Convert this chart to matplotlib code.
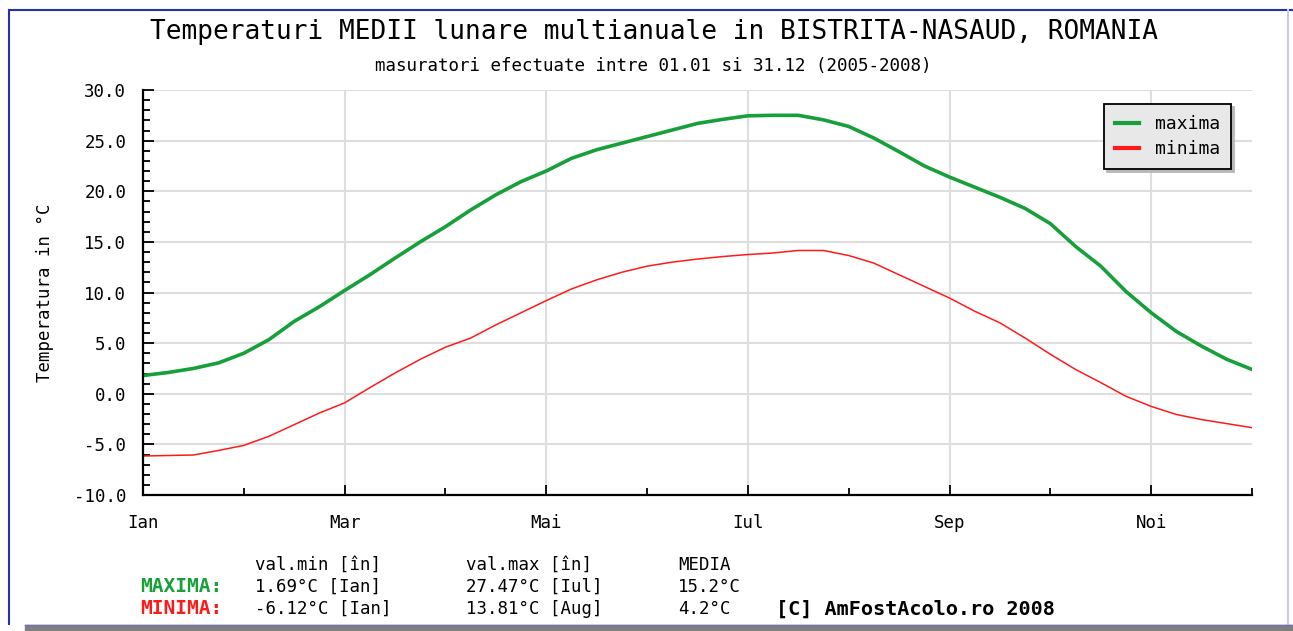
import matplotlib
matplotlib.use("Agg")
import matplotlib.pyplot as plt
from matplotlib.lines import Line2D

# luna (0 = Ian ... 11 = Dec), citite din grafic la fiecare sfert de luna
luni = [i / 4 for i in range(45)]
maxima = [1.8, 2.1, 2.5, 3.05, 4.0, 5.35, 7.15, 8.6, 10.2, 11.75, 13.4, 15.0,
          16.5, 18.15, 19.65, 20.95, 22.0, 23.25, 24.1, 24.75, 25.4, 26.05, 26.7, 27.1,
          27.45, 27.5, 27.5, 27.05, 26.4, 25.25, 23.9, 22.5, 21.4, 20.4, 19.4, 18.3,
          16.8, 14.55, 12.6, 10.1, 8.0, 6.15, 4.7, 3.4, 2.4]
minima = [-6.15, -6.1, -6.05, -5.6, -5.1, -4.2, -3.05, -1.9, -0.9, 0.6, 2.05, 3.4,
          4.6, 5.5, 6.8, 8.0, 9.2, 10.35, 11.25, 12.0, 12.6, 13.0, 13.3, 13.55,
          13.75, 13.9, 14.15, 14.15, 13.65, 12.9, 11.75, 10.6, 9.45, 8.15, 7.0, 5.5,
          3.9, 2.4, 1.1, -0.25, -1.25, -2.05, -2.55, -2.95, -3.35]

luni_ticks = [0, 2, 4, 6, 8, 10]
luni_labels = ["Ian", "Mar", "Mai", "Iul", "Sep", "Noi"]
y_ticks = [-10, -5, 0, 5, 10, 15, 20, 25, 30]

header = ["val.min [în]", "val.max [în]", "MEDIA"]
row_max = ["1.69°C [Ian]", "27.47°C [Iul]", "15.2°C"]
row_min = ["-6.12°C [Ian]", "13.81°C [Aug]", "4.2°C"]

VERDE = "#17a03a"
ROSU = "#ff1a1a"

plt.rcParams['font.family'] = ['DejaVu Sans Mono', 'DejaVu Sans']

W, H = 1293, 631
fig = plt.figure(figsize=(W / 100, H / 100), dpi=100)


def px(x, y):
    return x / W, 1 - y / H


# rama albastra + umbra de jos
fig.add_artist(Line2D([9 / W, 9 / W], [1 - 10 / H, 1 - 624 / H], color="#2233aa", lw=1.5))
fig.add_artist(Line2D([9 / W, 1], [1 - 10 / H, 1 - 10 / H], color="#2233aa", lw=1.5))
fig.add_artist(Line2D([1288 / W, 1288 / W], [1 - 10 / H, 1 - 624 / H], color="#c8c8f0", lw=1.5))
fig.add_artist(plt.Rectangle((25 / W, 0), 1, 6 / H, color="#808080", transform=fig.transFigure))
fig.add_artist(Line2D([25 / W, 1], [6.5 / H, 6.5 / H], color="#7070b0", lw=1))

ax = fig.add_axes([143 / W, 1 - 495 / H, (1252 - 143) / W, (495 - 90) / H])
ax.plot(luni, maxima, color=VERDE, lw=2.6, label="maxima")
ax.plot(luni, minima, color=ROSU, lw=1.1, label="minima")

ax.set_xlim(0, 11)
ax.set_ylim(-10, 30)
ax.set_xticks(luni_ticks)
ax.set_xticklabels(luni_labels)
ax.set_xticks([1, 3, 5, 7, 9, 11], minor=True)
ax.set_yticks(y_ticks)
ax.set_yticklabels(["%.1f" % v for v in y_ticks])
ax.set_yticks([v for v in range(-10, 31) if v % 5 != 0], minor=True)

ax.tick_params(axis="y", which="major", direction="in", length=8, width=1.3, labelsize=12.5, pad=12)
ax.tick_params(axis="y", which="minor", direction="in", length=5, width=1.3)
ax.tick_params(axis="x", which="major", direction="in", length=7, width=1.3, labelsize=12.5, pad=14)
ax.tick_params(axis="x", which="minor", direction="in", length=5, width=1.3)

ax.grid(True, which="major", color="#dedede", lw=1.5)
ax.set_axisbelow(True)
for s in ["top", "right"]:
    ax.spines[s].set_visible(False)
for s in ["left", "bottom"]:
    ax.spines[s].set_linewidth(1.6)
    ax.spines[s].set_zorder(5)

ax.set_ylabel("Temperatura in °C", fontsize=12.5, labelpad=14)

leg = ax.legend(loc="upper right", bbox_to_anchor=px(1231, 104), bbox_transform=fig.transFigure,
                borderaxespad=0, fancybox=False, shadow={"color": "#b8b8b8", "alpha": 1},
                framealpha=1, facecolor="#e8e8e8",
                edgecolor="black", fontsize=13, handlelength=1.3, handletextpad=0.9,
                borderpad=0.6, labelspacing=0.4)
leg.get_frame().set_linewidth(1.3)
for ln in leg.get_lines():
    ln.set_linewidth(3)

fig.text(*px(654, 32), "Temperaturi MEDII lunare multianuale in BISTRITA-NASAUD, ROMANIA",
         ha="center", va="center", fontsize=18.8)
fig.text(*px(653, 66), "masuratori efectuate intre 01.01 si 31.12 (2005-2008)",
         ha="center", va="center", fontsize=12.6)

cols = [255, 466, 678]
for c, h, a, b in zip(cols, header, row_max, row_min):
    fig.text(*px(c, 565), h, ha="left", va="center", fontsize=12.5)
    fig.text(*px(c, 587), a, ha="left", va="center", fontsize=12.5)
    fig.text(*px(c, 609), b, ha="left", va="center", fontsize=12.5)
fig.text(*px(140, 587), "MAXIMA:", ha="left", va="center", fontsize=14, color=VERDE, weight="bold")
fig.text(*px(140, 609), "MINIMA:", ha="left", va="center", fontsize=14, color=ROSU, weight="bold")
fig.text(*px(776, 609), "[C] AmFostAcolo.ro 2008", ha="left", va="center", fontsize=14.5, weight="bold")

fig.savefig("out.png", dpi=100)
